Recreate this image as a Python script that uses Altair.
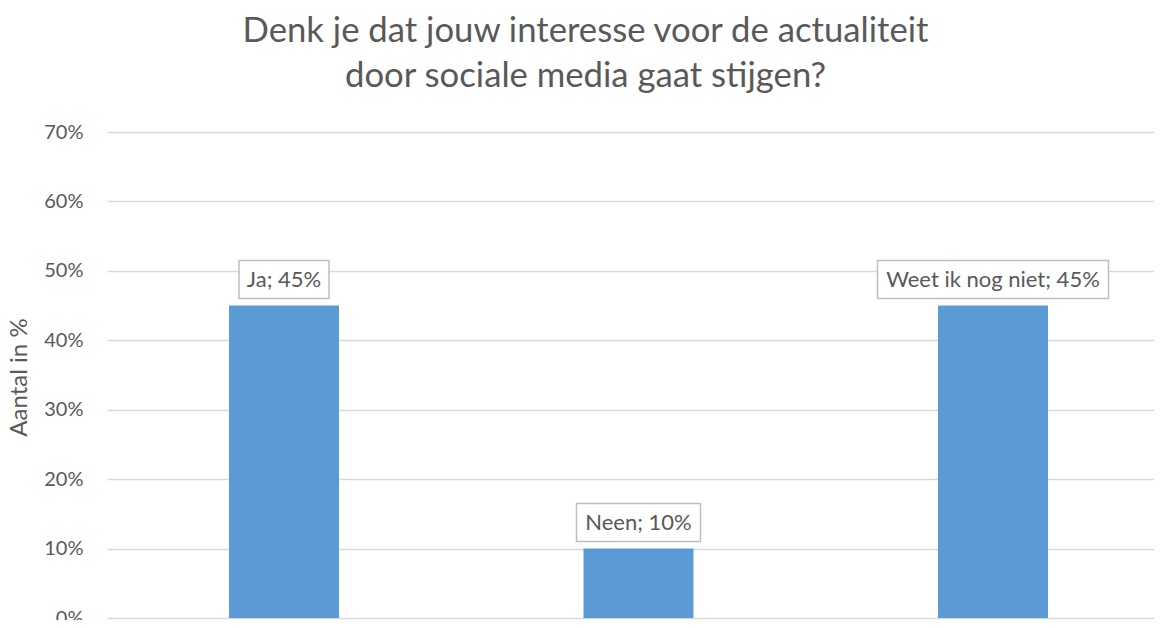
import altair as alt
import pandas as pd

# ---- data ----
categories = ["Ja", "Neen", "Weet ik nog niet"]
values = [45, 10, 45]
labels = [f"{c}; {v}%" for c, v in zip(categories, values)]
y_ticks = [0, 10, 20, 30, 40, 50, 60, 70]
title_lines = ["Denk je dat jouw interesse voor de actualiteit",
               "door sociale media gaat stijgen?"]

df = pd.DataFrame({"cat": categories, "val": values, "label": labels})

# ---- style ----
FONT = "Lato"
GRAY = "#595959"
BAR = "#5B9BD5"
box_widths = [90, 124, 231]

cat_list = "[" + ",".join(f"'{c}'" for c in categories) + "]"

x = alt.X("idx:Q", axis=None,
          scale=alt.Scale(domain=[-0.4993, 2.4542], nice=False, zero=False, padding=0))
y = alt.Y("val:Q",
          scale=alt.Scale(domain=[0, 70], nice=False),
          axis=alt.Axis(values=y_ticks, labelExpr="datum.value + '%'",
                        title="Aantal in %", grid=True, gridColor="#D9D9D9",
                        gridWidth=1.5, domain=False, ticks=False, labelPadding=24,
                        labelFontSize=20, labelColor=GRAY, labelFont=FONT,
                        titleFont=FONT, titleFontSize=24, titleColor=GRAY,
                        titleFontWeight="normal", titleX=-88, titleY=245,
                        titleAngle=270, titleBaseline="middle", titleAlign="center"))

base = alt.Chart(df).transform_calculate(idx=f"indexof({cat_list}, datum.cat)")
bars = base.mark_bar(color=BAR, size=110).encode(x=x, y=y)

boxes = [
    base.transform_filter(alt.datum.cat == c)
    .mark_bar(size=w, fill="white", stroke="#BFBFBF", strokeWidth=1.5,
              yOffset=-45, y2Offset=-7)
    .encode(x=x, y="val:Q", y2="val")
    for c, w in zip(categories, box_widths)
]

text = base.mark_text(font=FONT, fontSize=22, color=GRAY, dy=-26,
                      baseline="middle").encode(x=x, y="val:Q", text="label:N")

chart = alt.layer(bars, *boxes, text).properties(
    width=1047, height=486,
    padding={"left": 99, "top": 124, "right": 0, "bottom": 2},
    autosize="none",
    title=alt.Title(title_lines, fontSize=34.7, font=FONT, color=GRAY,
                    fontWeight="normal", lineHeight=45, dx=-45, dy=43, offset=36,
                    baseline="bottom", anchor="middle"),
).configure_view(stroke=None)

chart.save("out.html", embed_options={"renderer": "svg", "actions": False})
